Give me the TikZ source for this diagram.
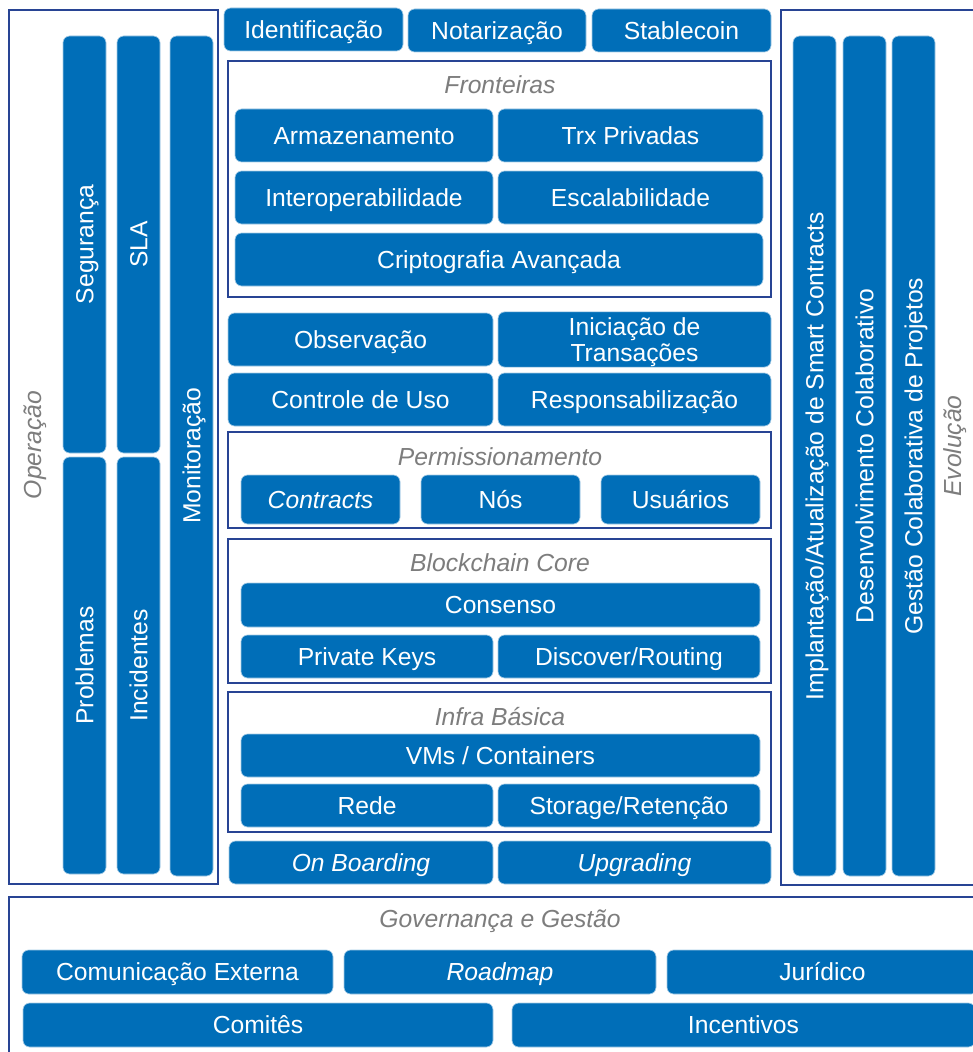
\documentclass[tikz,border=0pt]{standalone}
\usepackage{fontspec}
\setmainfont{Liberation Sans}
\usepackage{tikz}
\definecolor{boxblue}{RGB}{0,110,184}
\definecolor{framebl}{RGB}{40,68,148}
\definecolor{capgray}{RGB}{125,125,125}

\begin{document}
\begin{tikzpicture}[x=0.75pt,y=-0.75pt,
		blk/.style={fill=boxblue, draw=boxblue!35!white, line width=0.5pt, rounded corners=5pt,
			text=white, font=\fontsize{18.5}{19.5}\selectfont, inner sep=0pt, align=center},
		oneline/.style={text height=13.2pt, text depth=0pt},
		frame/.style={draw=framebl, line width=1.4pt},
		titl/.style={text=capgray, font=\fontsize{18.5}{19.5}\selectfont\itshape, inner sep=0pt, oneline}]
		\clip (0,0) rectangle (973,1052);
		\fill[white] (0,0) rectangle (973,1052);

		% Frames
		\draw[frame] (9,10) rectangle (218,884);
		\draw[frame] (781,10) rectangle (990,885);
		\draw[frame] (228,61) rectangle (771,297);
		\draw[frame] (228,432) rectangle (771,528);
		\draw[frame] (228,539) rectangle (771,683);
		\draw[frame] (228,692) rectangle (771,832);
		\draw[frame] (9,897) rectangle (990,1070);

		% Frame titles
		\foreach \n/\x/\y/\t in {fron/500/85/Fronteiras, perm/500/457/Permissionamento,
			core/500/563/Blockchain Core, infra/500/717/Infra Básica, gov/500/919/Governança e Gestão}
			\node[titl] (\n) at (\x,\y) {\t};
		\node[titl, rotate=90] (oper) at (33,445) {Operação};
		\node[titl, rotate=90] (evol) at (953,446) {Evolução};

		% Horizontal blocks
		\foreach \n/\x/\y/\w/\h/\t in {
			ident/313.5/29.5/179/43/Identificação,
			notar/497/30.5/178/43/Notarização,
			stable/681.5/30.5/179/43/Stablecoin,
			armaz/364/135.5/258/53/Armazenamento,
			trx/630.5/135.5/265/53/Trx Privadas,
			inter/364/197.5/258/53/Interoperabilidade,
			escal/630.5/197.5/265/53/Escalabilidade,
			cripto/499/259.5/528/53/Criptografia Avançada,
			obs/360.5/339.5/265/53/Observação,
			ctrl/360.5/399.5/265/53/Controle de Uso,
			resp/634.5/399.5/273/53/Responsabilização,
			contr/320.5/499.5/159/49/{\itshape Contracts},
			nos/500.5/499.5/159/49/Nós,
			usu/680.5/499.5/159/49/Usuários,
			cons/500.5/605/519/44/Consenso,
			pkeys/367/656.5/252/43/Private Keys,
			disc/629/656.5/262/43/{Discover/Routing},
			vms/500.5/755.5/519/43/{VMs / Containers},
			rede/367/805.5/252/43/Rede,
			stor/629/805.5/262/43/{Storage/Retenção},
			onb/361/862.5/264/43/{\itshape On Boarding},
			upg/634.5/862.5/273/43/{\itshape Upgrading},
			comun/177.5/972/311/44/Comunicação Externa,
			road/500/972/312/44/{\itshape Roadmap},
			jurid/822.5/972/311/44/Jurídico,
			comit/258/1025/470/44/Comitês,
			incent/743.5/1025/463/44/Incentivos}
			\node[blk, oneline, minimum width=\w*0.75pt, minimum height=\h*0.75pt] (\n) at (\x,\y) {\t};
		\node[blk, minimum width=204.75pt, minimum height=39.75pt] (inic) at (634.5,339.5) {\rule{0pt}{18pt}Iniciação de\\Transações};

		% Vertical blocks
		\foreach \n/\x/\y/\l/\t in {
			segur/84.5/244.5/417/Segurança,
			probl/84.5/665.5/417/Problemas,
			sla/138.5/244.5/417/SLA,
			incid/138.5/665.5/417/Incidentes,
			monit/191.5/456/840/Monitoração,
			impl/814.5/456/840/{Implantação/Atualização de Smart Contracts},
			desenv/864.5/456/840/Desenvolvimento Colaborativo,
			gestao/913.5/456/840/Gestão Colaborativa de Projetos}
			\node[blk, oneline, rotate=90, minimum width=\l*0.75pt, minimum height=32.25pt] (\n) at (\x,\y) {\t};
	\end{tikzpicture}
\end{document}
